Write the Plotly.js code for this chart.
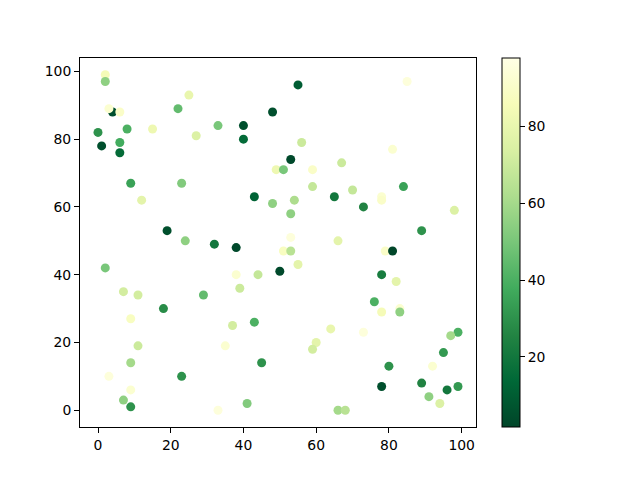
<!DOCTYPE html>
<html>
<head>
<meta charset="utf-8">
<script src="https://cdn.plot.ly/plotly-3.0.1.min.js"></script>
<style>html,body{margin:0;padding:0;background:#fff;}#chart{width:640px;height:480px;}</style>
</head>
<body>
<div id="chart"></div>
<script>
const xValues = [2,2,25,4,3,6,22,48,0,8,15,33,40,27,40,1,6,6,49,9,23,12,43,48,19,24,32,38,
  55,85,56,81,53,51,59,67,59,70,65,54,53,73,78,78,84,98,89,53,66,
  2,38,44,50,7,11,29,18,39,9,37,43,35,11,9,45,3,23,9,7,9,33,41,
  51,53,79,81,55,78,82,76,78,83,83,64,73,60,59,99,97,95,80,92,78,89,96,99,91,94,66,68];
const yValues = [99,97,93,88,89,88,89,88,82,83,83,84,84,81,80,78,79,76,71,67,67,62,63,61,53,50,49,48,
  96,97,79,77,74,71,71,73,66,65,63,62,58,60,63,62,66,59,53,51,50,
  42,40,40,41,35,34,34,30,36,27,25,26,19,19,14,14,10,10,6,3,1,0,2,
  47,47,47,47,43,40,38,32,29,30,29,24,23,20,18,23,22,17,13,13,7,8,6,7,4,2,0,0];
const colorValues = [85,55,80,5,92,90,45,5,30,40,82,50,5,75,15,5,38,15,82,35,52,78,12,55,5,55,20,3,
  10,95,70,92,3,50,90,70,68,68,20,62,55,25,92,90,35,75,30,95,78,
  50,92,68,3,72,72,45,28,70,88,72,40,92,70,60,30,95,30,92,55,30,95,52,
  88,65,90,2,78,22,78,40,85,92,55,80,95,78,72,40,60,32,30,92,5,25,20,32,55,75,60,65];
const colorTicks = [20,40,60,80];

const ylgnR = [
  [0.0,'#004529'],[0.125,'#006837'],[0.25,'#238443'],[0.375,'#41ab5d'],
  [0.5,'#78c679'],[0.625,'#addd8e'],[0.75,'#d9f0a3'],[0.875,'#f7fcb9'],[1.0,'#ffffe5']
];

const trace = {
  type: 'scatter', mode: 'markers',
  x: xValues, y: yValues,
  marker: {
    color: colorValues, colorscale: ylgnR, cmin: 1.6, cmax: 97.8, size: 9,
    line: {width: 0},
    showscale: true,
    colorbar: {
      x: 502/640, xanchor: 'left', xref: 'paper',
      y: 1 - 427.3/480, yanchor: 'bottom',
      len: (427.3-58.3)/480, lenmode: 'fraction',
      thickness: 18, thicknessmode: 'pixels',
      outlinewidth: 1, outlinecolor: '#000',
      tickmode: 'array', tickvals: colorTicks, ticktext: colorTicks.map(String),
      ticks: 'outside', ticklen: 5, tickwidth: 1, tickcolor: '#000',
      tickfont: {family: 'DejaVu Sans', size: 13.9, color: '#000'},
      xpad: 0, ypad: 0, borderwidth: 0
    }
  },
  hoverinfo: 'x+y'
};

const axisCommon = {
  showgrid: false, zeroline: false, showline: true, linecolor: '#000', linewidth: 1, mirror: true,
  ticks: 'outside', ticklen: 5, tickwidth: 1, tickcolor: '#000',
  tickfont: {family: 'DejaVu Sans', size: 13.9, color: '#000'},
  tickmode: 'array', tickvals: [0,20,40,60,80,100]
};

const layout = {
  width: 640, height: 480,
  margin: {l: 0, r: 0, t: 0, b: 0, pad: 0},
  paper_bgcolor: '#fff', plot_bgcolor: '#fff',
  showlegend: false,
  xaxis: Object.assign({}, axisCommon, {domain: [80/640, 476/640], range: [-4.95, 103.95]}),
  yaxis: Object.assign({}, axisCommon, {domain: [1-427/480, 1-58/480], range: [-4.95, 103.95]})
};

Plotly.newPlot('chart', [trace], layout, {displayModeBar: false, staticPlot: true});
</script>
</body>
</html>
